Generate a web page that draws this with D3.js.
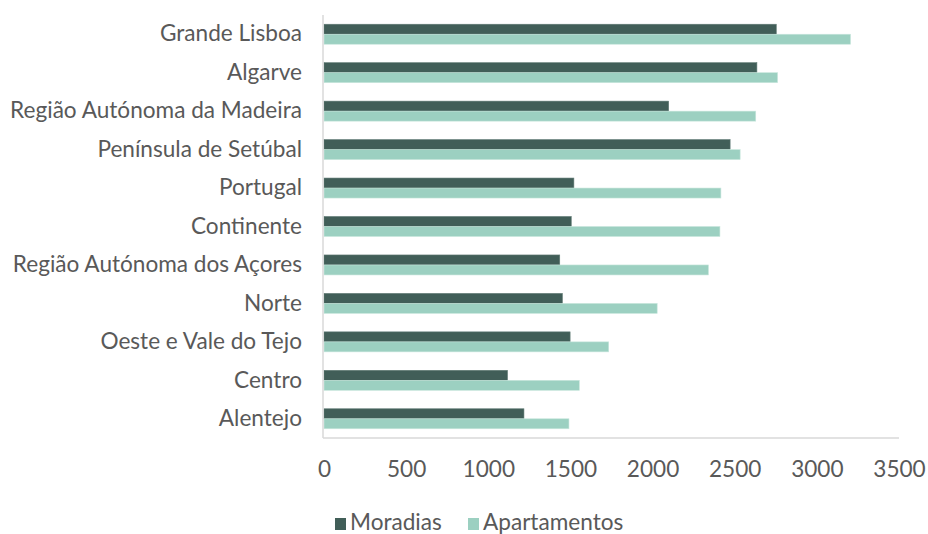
<!DOCTYPE html>
<html><head><meta charset="utf-8">
<script src="https://cdn.jsdelivr.net/npm/d3@7"></script>
<style>body{margin:0;background:#fff}svg{display:block}</style>
</head><body>
<svg id="c" width="928" height="534"></svg>
<script>
const categories = ["Grande Lisboa","Algarve","Região Autónoma da Madeira","Península de Setúbal","Portugal","Continente","Região Autónoma dos Açores","Norte","Oeste e Vale do Tejo","Centro","Alentejo"];
const moradias = [2753,2635,2098,2472,1521,1505,1435,1451,1498,1117,1217];
const apartamentos = [3205,2761,2628,2533,2416,2410,2340,2028,1733,1554,1491];
const seriesNames = ["Moradias","Apartamentos"];
const xTicks = [0,500,1000,1500,2000,2500,3000,3500];
const colors = ["#415E58","#9CD0C1"];
const font = "Lato, 'Open Sans', sans-serif";
const fontSize = 22.6;
const textColor = "#595959";

const svg = d3.select("#c");
const mLeft = 324, mRight = 899, mTop = 15, mBottom = 438;
const x = d3.scaleLinear().domain([0,3500]).range([mLeft,mRight]);
const y0 = d3.scaleBand().domain(categories).range([mTop,mBottom]).padding(0);
const groupH = y0.bandwidth()*0.52;
const y1 = d3.scaleBand().domain(seriesNames).range([0,groupH]).padding(0);

const data = categories.map((c,i)=>({cat:c, vals:[moradias[i],apartamentos[i]]}));
const g = svg.append("g");
const grp = g.selectAll("g.grp").data(data).join("g")
  .attr("transform", d=>`translate(0,${y0(d.cat)+(y0.bandwidth()-groupH)/2})`);
grp.selectAll("rect").data(d=>d.vals.map((v,k)=>({v,k}))).join("rect")
  .attr("x", x(0))
  .attr("y", d=>y1(seriesNames[d.k]))
  .attr("width", d=>x(d.v)-x(0))
  .attr("height", y1.bandwidth())
  .attr("fill", d=>colors[d.k])
  .attr("stroke", d=>d.k===0?"#5f7a74":"#c8e6dd")
  .attr("stroke-width",0.6);

// axis lines
svg.append("line").attr("x1",mLeft-1).attr("x2",mLeft-1).attr("y1",mTop).attr("y2",mBottom)
  .attr("stroke","#d9d9d9").attr("stroke-width",1.5);
svg.append("line").attr("x1",mLeft-1).attr("x2",mRight).attr("y1",mBottom).attr("y2",mBottom)
  .attr("stroke","#d9d9d9").attr("stroke-width",1.5);

// y axis labels
const ya = svg.append("g").attr("transform",`translate(${mLeft},0)`)
  .call(d3.axisLeft(y0).tickSize(0).tickPadding(22));
ya.select(".domain").remove();
ya.selectAll("text").attr("font-family",font).attr("font-size",fontSize).attr("fill",textColor);

// x axis labels
const xa = svg.append("g").attr("transform",`translate(0,${mBottom})`)
  .call(d3.axisBottom(x).tickValues(xTicks).tickSize(0).tickPadding(23).tickFormat(d3.format("d")));
xa.select(".domain").remove();
xa.selectAll("text").attr("font-family",font).attr("font-size",fontSize).attr("fill",textColor);

// legend
const leg = svg.append("g").attr("transform","translate(0,523)");
const legX = [335, 468];
seriesNames.forEach((s,i)=>{
  leg.append("rect").attr("x",legX[i]).attr("y",-5).attr("width",11).attr("height",12).attr("fill",colors[i]);
  leg.append("text").attr("x",legX[i]+15).attr("y",0).attr("dy","0.33em")
    .attr("font-family",font).attr("font-size",fontSize).attr("fill",textColor).text(s);
});
</script>
</body></html>
